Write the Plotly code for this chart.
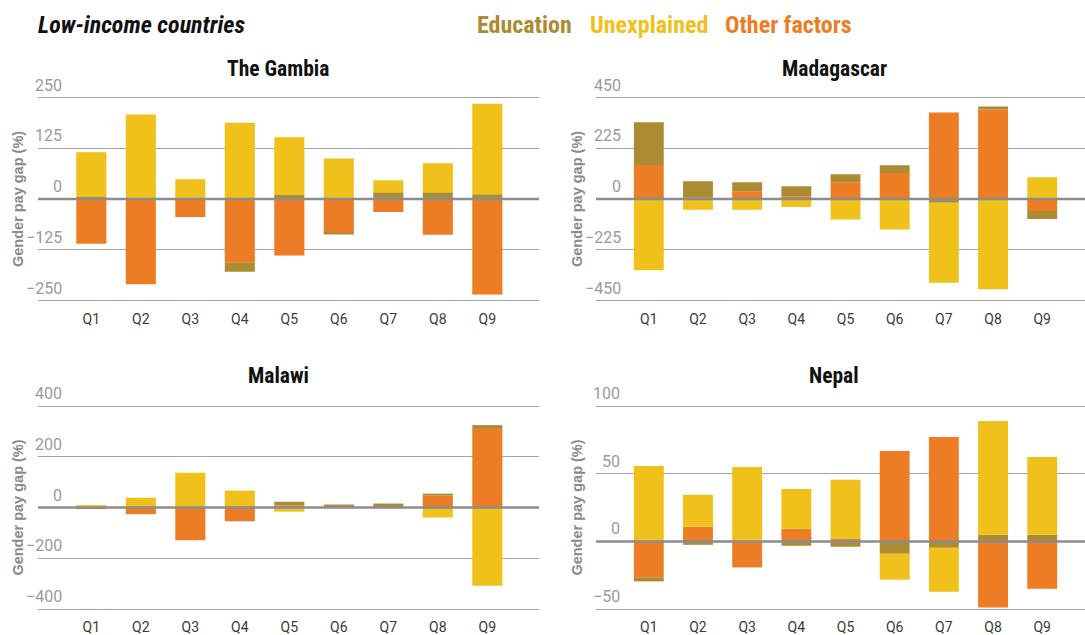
import plotly.graph_objects as go

W, H = 1085, 635

# ---- data -----------------------------------------------------------------
quantiles = ["Q1", "Q2", "Q3", "Q4", "Q5", "Q6", "Q7", "Q8", "Q9"]
series_names = ["Other factors", "Education", "Unexplained"]

gambia_other = [-110, -210, -44, -157, -139, -84, -32, -88, -235]
gambia_education = [5, 1, 1, -22, 10, -2, 17, 17, 12]
gambia_unexplained = [110, 207, 48, 188, 142, 100, 29.5, 71, 223]
gambia_ticks = [250, 125, 0, -125, -250]

madagascar_other = [151, 6, 35, 13, 75, 116, 384, 397, -53]
madagascar_education = [189, 73, 40, 44, 35, 34, -16, 13, -35]
madagascar_unexplained = [-316, -47, -47, -35, -91, -135, -355, -400, 97]
madagascar_ticks = [450, 225, 0, -225, -450]

malawi_other = [-3, -26, -129, -54, 8, 2, 2, 47, 310]
malawi_education = [5, 5, 0, 5, 15, 10, 14, 8, 15]
malawi_unexplained = [2, 34, 137, 62, -16, 0, 0, -39, -308]
malawi_ticks = [400, 200, 0, -200, -400]

nepal_other = [-26.5, 10.8, -19.2, 9.3, 2, 66.8, 77.1, -48.9, -34.9]
nepal_education = [-3, -2.5, 0, -3.2, -3.9, -9.1, -4.7, 4.9, 4.9]
nepal_unexplained = [55.8, 23.6, 55, 29.5, 43.5, -19.2, -32.4, 84, 57.5]
nepal_ticks = [100, 50, 0, -50]

# ---- styling --------------------------------------------------------------
colors = {"Education": "#AD8B32", "Unexplained": "#F0C11A", "Other factors": "#EC7D24"}
COND = "Roboto Condensed, Open Sans Condensed, Liberation Sans, sans-serif"
SANS = "Roboto, Liberation Sans, Arial, sans-serif"
WIDE = "Liberation Sans, Arial, sans-serif"
EDGE_PX = 2  # extra room so the outermost gridlines are not clipped


def fx(p):
    return p / W


def fy(p):
    return 1 - p / H


def fmt(v):
    return ("\u2212" + str(abs(v))) if v < 0 else str(v)


# panel layout in pixels: plot box, x range, tick-label right edge, title centre
panels = [
    dict(title="The Gambia", other=gambia_other, education=gambia_education,
         unexplained=gambia_unexplained, ticks=gambia_ticks,
         box=(38, 539, 98, 302), xr=(-1.077, 9.044), lab_x=64, tit_x=278, tit_y=69, ytit_x=18),
    dict(title="Madagascar", other=madagascar_other, education=madagascar_education,
         unexplained=madagascar_unexplained, ticks=madagascar_ticks,
         box=(596, 1085, 98, 302), xr=(-1.074, 8.87), lab_x=623, tit_x=834, tit_y=69, ytit_x=577),
    dict(title="Malawi", other=malawi_other, education=malawi_education,
         unexplained=malawi_unexplained, ticks=malawi_ticks,
         box=(38, 539, 408, 612), xr=(-1.077, 9.044), lab_x=64, tit_x=278, tit_y=377, ytit_x=18),
    dict(title="Nepal", other=nepal_other, education=nepal_education,
         unexplained=nepal_unexplained, ticks=nepal_ticks,
         box=(596, 1085, 408, 612), xr=(-1.074, 8.87), lab_x=622, tit_x=834, tit_y=377, ytit_x=577),
]

fig = go.Figure()
annotations = []
shapes = []
layout_axes = {}

for i, p in enumerate(panels, start=1):
    sfx = "" if i == 1 else str(i)
    xa, ya = "x" + sfx, "y" + sfx
    values = {"Other factors": p["other"], "Education": p["education"],
              "Unexplained": p["unexplained"]}
    for name in series_names:
        fig.add_trace(go.Bar(
            x=quantiles, y=values[name], name=name, xaxis=xa, yaxis=ya,
            marker=dict(color=colors[name], line=dict(width=0)),
            showlegend=False, hoverinfo="x+y+name",
        ))

    x0, x1, y0, y1 = p["box"]
    lo, hi = min(p["ticks"]), max(p["ticks"])
    pad = (hi - lo) * EDGE_PX / (y1 - y0)
    layout_axes["xaxis" + sfx] = dict(
        domain=[fx(x0), fx(x1)], anchor=ya, type="category",
        categoryorder="array", categoryarray=quantiles,
        range=list(p["xr"]), showgrid=False, zeroline=False, showline=False,
        ticks="", tickfont=dict(family=SANS, size=14, color="#3a3a3a"),
        ticklabelstandoff=6, fixedrange=True,
    )
    layout_axes["yaxis" + sfx] = dict(
        domain=[fy(y1 + EDGE_PX), fy(y0 - EDGE_PX)], anchor=xa, range=[lo - pad, hi + pad],
        tickmode="array", tickvals=p["ticks"], showticklabels=False,
        showgrid=True, gridcolor="#a3a3a3", gridwidth=1,
        zeroline=False, showline=False, ticks="", fixedrange=True,
    )

    # tick labels sit just above their gridlines
    for v in p["ticks"]:
        annotations.append(dict(
            x=fx(p["lab_x"]), xref="paper", y=v, yref=ya,
            xanchor="right", yanchor="bottom", yshift=1, showarrow=False,
            text=fmt(v), font=dict(family=SANS, size=16, color="#9a9a9a"),
        ))

    # panel title
    annotations.append(dict(
        x=fx(p["tit_x"]), y=fy(p["tit_y"]), xref="paper", yref="paper",
        xanchor="center", yanchor="middle", showarrow=False,
        text="<b>" + p["title"] + "</b>",
        font=dict(family=COND, size=21.5, color="#111111"),
    ))

    # axis title
    annotations.append(dict(
        x=fx(p["ytit_x"]), y=fy((y0 + y1) / 2), xref="paper", yref="paper",
        xanchor="center", yanchor="middle", showarrow=False, textangle=-90,
        text="<b>Gender pay gap (%)</b>",
        font=dict(family=WIDE, size=14.5, color="#8a8a8a"),
    ))

    # baseline drawn over the bars
    shapes.append(dict(
        type="line", xref=xa + " domain", x0=0, x1=1, yref=ya, y0=0, y1=0,
        line=dict(color="#8c8c8c", width=2.5), layer="above",
    ))

# heading and coloured legend words
annotations.append(dict(
    x=fx(36), y=fy(25), xref="paper", yref="paper", xanchor="left", yanchor="middle",
    showarrow=False, text="<b><i>Low-income countries</i></b>",
    font=dict(family=COND, size=24, color="#111111"),
))
legend_x = {"Education": 475, "Unexplained": 588, "Other factors": 723}
for name in ["Education", "Unexplained", "Other factors"]:
    annotations.append(dict(
        x=fx(legend_x[name]), y=fy(25), xref="paper", yref="paper",
        xanchor="left", yanchor="middle", showarrow=False,
        text="<b>" + name + "</b>",
        font=dict(family=COND, size=24, color=colors[name]),
    ))

fig.update_layout(
    width=W, height=H, margin=dict(l=0, r=0, t=0, b=0),
    paper_bgcolor="white", plot_bgcolor="white",
    barmode="relative", bargap=0.392,
    annotations=annotations, shapes=shapes,
    **layout_axes,
)

fig.write_html("out.html", config={"displayModeBar": False})
